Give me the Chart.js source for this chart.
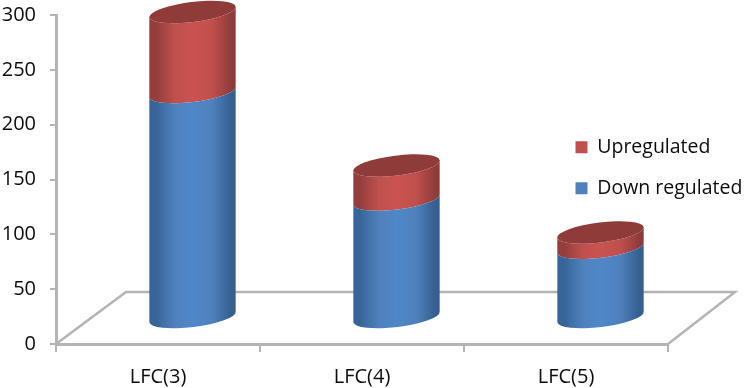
<!DOCTYPE html>
<html>
<head>
<meta charset="utf-8">
<style>
  html, body { margin: 0; padding: 0; background: #fff; }
  canvas { display: block; }
</style>
<script src="https://cdn.jsdelivr.net/npm/chart.js@4"></script>
</head>
<body>
<canvas id="chart" width="744" height="388"></canvas>
<script>
const categories = ["LFC(3)", "LFC(4)", "LFC(5)"];
const downRegulated = [206, 108, 64];
const upregulated = [73, 31, 14];
const yTicks = [0, 50, 100, 150, 200, 250, 300];

const FONT = { family: "'Open Sans', sans-serif", size: 20 };
const LEGEND_FONT = { family: "'Open Sans', sans-serif", size: 19.5 };
const TEXT = "#0c0c0c";
const AXIS_GREY = "#b4b4b4";
const RED = "#c0504d";
const BLUE = "#4f81bd";

// how far the floor runs "into" the picture
const DEPTH_X = 70;
const DEPTH_Y = 52;
const TILT = (-7 * Math.PI) / 180;
const CAP_RY = 10;

const shades = {
  [RED]: { edgeL: "#933e3c", edgeR: "#8e3b39", mid: "#c95350", cap: "#8f3b3a" },
  [BLUE]: { edgeL: "#376599", edgeR: "#345f8e", mid: "#5087c8", cap: "#3a6291" },
};

// bars are drawn as cylinders standing in the middle of the floor
Chart.BarElement.prototype.draw = function (ctx) {
  const { x, y, base, width, options } = this;
  const color = options.backgroundColor;
  const shade = shades[color];
  const cx = x + DEPTH_X / 2 - 0.5;
  const top = y - DEPTH_Y / 2;
  const bottom = base - DEPTH_Y / 2;
  const rx = width / 2;

  const grad = ctx.createLinearGradient(cx - rx, 0, cx + rx, 0);
  grad.addColorStop(0, shade.edgeL);
  grad.addColorStop(0.08, shade.edgeL);
  grad.addColorStop(0.3, color);
  grad.addColorStop(0.5, shade.mid);
  grad.addColorStop(0.72, color);
  grad.addColorStop(0.95, shade.edgeR);
  grad.addColorStop(1, shade.edgeR);

  ctx.save();
  ctx.beginPath();
  ctx.ellipse(cx, bottom, rx, CAP_RY, TILT, Math.PI, 0, true);
  ctx.ellipse(cx, top, rx, CAP_RY, TILT, 0, Math.PI, false);
  ctx.closePath();
  ctx.fillStyle = grad;
  ctx.fill();

  // only the top of the stack shows its lid
  if (color === RED) {
    ctx.beginPath();
    ctx.ellipse(cx, top, rx, CAP_RY, TILT, 0, Math.PI * 2);
    ctx.fillStyle = shade.cap;
    ctx.fill();
  }
  ctx.restore();
};

const floorPlugin = {
  id: "floor",
  beforeDatasetsDraw(chart) {
    const { left, right, bottom } = chart.chartArea;
    const ctx = chart.ctx;
    ctx.save();
    ctx.strokeStyle = AXIS_GREY;
    ctx.lineWidth = 2.5;
    ctx.beginPath();
    ctx.moveTo(left, bottom);
    ctx.lineTo(left + DEPTH_X, bottom - DEPTH_Y);
    ctx.lineTo(right + DEPTH_X - 3, bottom - DEPTH_Y);
    ctx.lineTo(right, bottom);
    ctx.stroke();
    ctx.restore();
  },
};

// legend sits over the plot, right of the last bar
const legendPlace = {
  id: "legendPlace",
  afterLayout(chart) {
    const legend = chart.legend;
    legend.left = 554;
    legend.right = 744;
    legend.top = 116;
    legend.bottom = 300;
  },
};

new Chart(document.getElementById("chart"), {
  type: "bar",
  data: {
    labels: categories,
    datasets: [
      { label: "Down regulated", data: downRegulated, backgroundColor: BLUE, borderWidth: 0 },
      { label: "Upregulated", data: upregulated, backgroundColor: RED, borderWidth: 0 },
    ],
  },
  plugins: [floorPlugin, legendPlace],
  options: {
    responsive: false,
    animation: false,
    layout: { padding: { top: 15, right: 76, left: 0, bottom: 0 } },
    datasets: { bar: { categoryPercentage: 1, barPercentage: 87 / 204, clip: false } },
    plugins: {
      tooltip: { enabled: false },
      legend: {
        position: "chartArea",
        align: "start",
        reverse: true,
        labels: { font: LEGEND_FONT, color: TEXT, boxWidth: 12, boxHeight: 12, padding: 21.5 },
      },
    },
    scales: {
      x: {
        stacked: true,
        afterFit: (s) => { s.height = 44; s.paddingLeft = 0; s.paddingRight = 0; },
        border: { color: AXIS_GREY, width: 3 },
        grid: { drawOnChartArea: false, drawTicks: true, tickLength: 8, color: AXIS_GREY, lineWidth: 2 },
        ticks: { font: FONT, color: TEXT, padding: 13, maxRotation: 0 },
      },
      y: {
        stacked: true,
        min: 0,
        max: 300,
        afterFit: (s) => { s.width = 56; s.paddingTop = 0; s.paddingBottom = 0; },
        afterBuildTicks: (s) => { s.ticks = yTicks.map((value) => ({ value })); },
        border: { color: AXIS_GREY, width: 3 },
        grid: { drawOnChartArea: false, drawTicks: true, tickLength: 6, color: AXIS_GREY, lineWidth: 2 },
        ticks: { font: FONT, color: TEXT, padding: 14 },
      },
    },
  },
});
</script>
</body>
</html>
